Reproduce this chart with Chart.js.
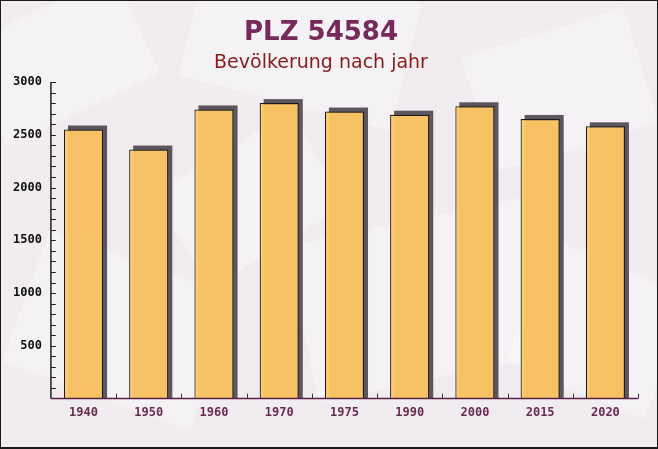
<!DOCTYPE html>
<html>
<head>
<meta charset="utf-8">
<script src="https://cdn.jsdelivr.net/npm/chart.js@4/dist/chart.umd.min.js"></script>
<style>
  html, body { margin: 0; padding: 0; background: #f1edf0; }
  #wrap { width: 658px; height: 449px; position: relative; }
</style>
</head>
<body>
<div id="wrap"><canvas id="chart" width="658" height="449"></canvas></div>
<script>
const years = ['1940', '1950', '1960', '1970', '1975', '1990', '2000', '2015', '2020'];
const population = [2550, 2360, 2740, 2800, 2720, 2690, 2770, 2650, 2580];
const yTickLabels = [500, 1000, 1500, 2000, 2500, 3000];

const monoFont = '"DejaVu Sans Mono", monospace';

// fond clair avec quelques enveloppes pâles
const backdrop = {
    id: 'backdrop',
    beforeDraw(chart) {
        const { ctx, width, height } = chart;
        ctx.save();
        ctx.fillStyle = '#f0ecef';
        ctx.fillRect(0, 0, width, height);
        const shapes = [
            [60, 60, 170, 110, -0.45], [300, 40, 220, 130, 0.25], [560, 90, 170, 120, -0.3],
            [120, 330, 200, 140, 0.35], [420, 300, 240, 160, -0.2], [600, 330, 150, 130, 0.4],
            [250, 200, 160, 110, -0.55]
        ];
        shapes.forEach(([x, y, w, h, a]) => {
            ctx.save();
            ctx.translate(x, y);
            ctx.rotate(a);
            ctx.fillStyle = 'rgba(255,255,255,0.3)';
            ctx.fillRect(-w / 2, -h / 2, w, h);
            ctx.restore();
        });
        ctx.restore();
    },
    afterDraw(chart) {
        const { ctx, width, height } = chart;
        ctx.save();
        ctx.strokeStyle = '#1a1a1a';
        ctx.lineWidth = 2;
        ctx.strokeRect(0, 0, width, height - 1);
        ctx.restore();
    }
};

// ombre 3D derrière chaque barre + graduations internes
const barShadow = {
    id: 'barShadow',
    beforeDatasetsDraw(chart) {
        const { ctx } = chart;
        const meta = chart.getDatasetMeta(0);
        const base = chart.scales.y.getPixelForValue(0);
        ctx.save();
        ctx.fillStyle = '#5e565d';
        meta.data.forEach(bar => {
            const left = bar.x - bar.width / 2;
            ctx.fillRect(left + 4, bar.y - 4, bar.width, base - bar.y + 4);
        });
        ctx.restore();
    },
    afterDatasetsDraw(chart) {
        const { ctx, chartArea } = chart;
        const y = chart.scales.y;
        ctx.save();
        ctx.lineWidth = 1;
        ctx.strokeStyle = '#222';
        for (let v = 100; v <= 3000; v += 100) {
            const py = Math.round(y.getPixelForValue(v)) + 0.5;
            ctx.beginPath();
            ctx.moveTo(chartArea.left, py);
            ctx.lineTo(chartArea.left + 5, py);
            ctx.stroke();
        }
        ctx.strokeStyle = '#5a2245';
        const step = (chartArea.right - chartArea.left) / years.length;
        for (let i = 1; i <= years.length; i++) {
            const px = Math.round(chartArea.left + step * i) + 0.5;
            ctx.beginPath();
            ctx.moveTo(px, chartArea.bottom);
            ctx.lineTo(px, chartArea.bottom - 5);
            ctx.stroke();
        }
        // axes
        ctx.strokeStyle = '#222';
        ctx.lineWidth = 1.5;
        ctx.beginPath();
        ctx.moveTo(chartArea.left, chartArea.top);
        ctx.lineTo(chartArea.left, chartArea.bottom);
        ctx.stroke();
        ctx.strokeStyle = '#5a2245';
        ctx.beginPath();
        ctx.moveTo(chartArea.left, chartArea.bottom);
        ctx.lineTo(chartArea.right, chartArea.bottom);
        ctx.stroke();
        ctx.restore();
    }
};

new Chart(document.getElementById('chart'), {
    type: 'bar',
    data: {
        labels: years,
        datasets: [{
            data: population,
            backgroundColor: 'rgba(254, 200, 100, 0.95)',
            borderColor: '#1a1a1a',
            borderWidth: 1.2,
            borderSkipped: 'bottom',
            categoryPercentage: 0.6,
            barPercentage: 1.0
        }]
    },
    options: {
        responsive: false,
        animation: false,
        layout: { padding: { left: 4, right: 20, bottom: 22, top: 0 } },
        plugins: {
            legend: { display: false },
            tooltip: { enabled: false },
            title: {
                display: true,
                text: 'PLZ 54584',
                color: '#76295a',
                font: { family: '"DejaVu Sans"', size: 26, weight: 'bold' },
                padding: { top: 18, bottom: 2 }
            },
            subtitle: {
                display: true,
                text: 'Bevölkerung nach jahr',
                color: '#8b1a1a',
                font: { family: '"DejaVu Sans"', size: 19 },
                padding: { top: 0, bottom: 8 }
            }
        },
        scales: {
            x: {
                grid: { display: false, drawTicks: false },
                border: { display: false },
                ticks: {
                    color: '#6b2a52',
                    padding: 7,
                    font: { family: monoFont, size: 12, weight: 'bold' }
                }
            },
            y: {
                min: 0,
                max: 3000,
                grid: { display: false, drawTicks: false },
                border: { display: false },
                afterBuildTicks: scale => {
                    scale.ticks = yTickLabels.map(v => ({ value: v }));
                },
                ticks: {
                    color: '#111',
                    padding: 9,
                    callback: v => String(v),
                    font: { family: monoFont, size: 12, weight: 'bold' }
                }
            }
        }
    },
    plugins: [backdrop, barShadow]
});
</script>
</body>
</html>
